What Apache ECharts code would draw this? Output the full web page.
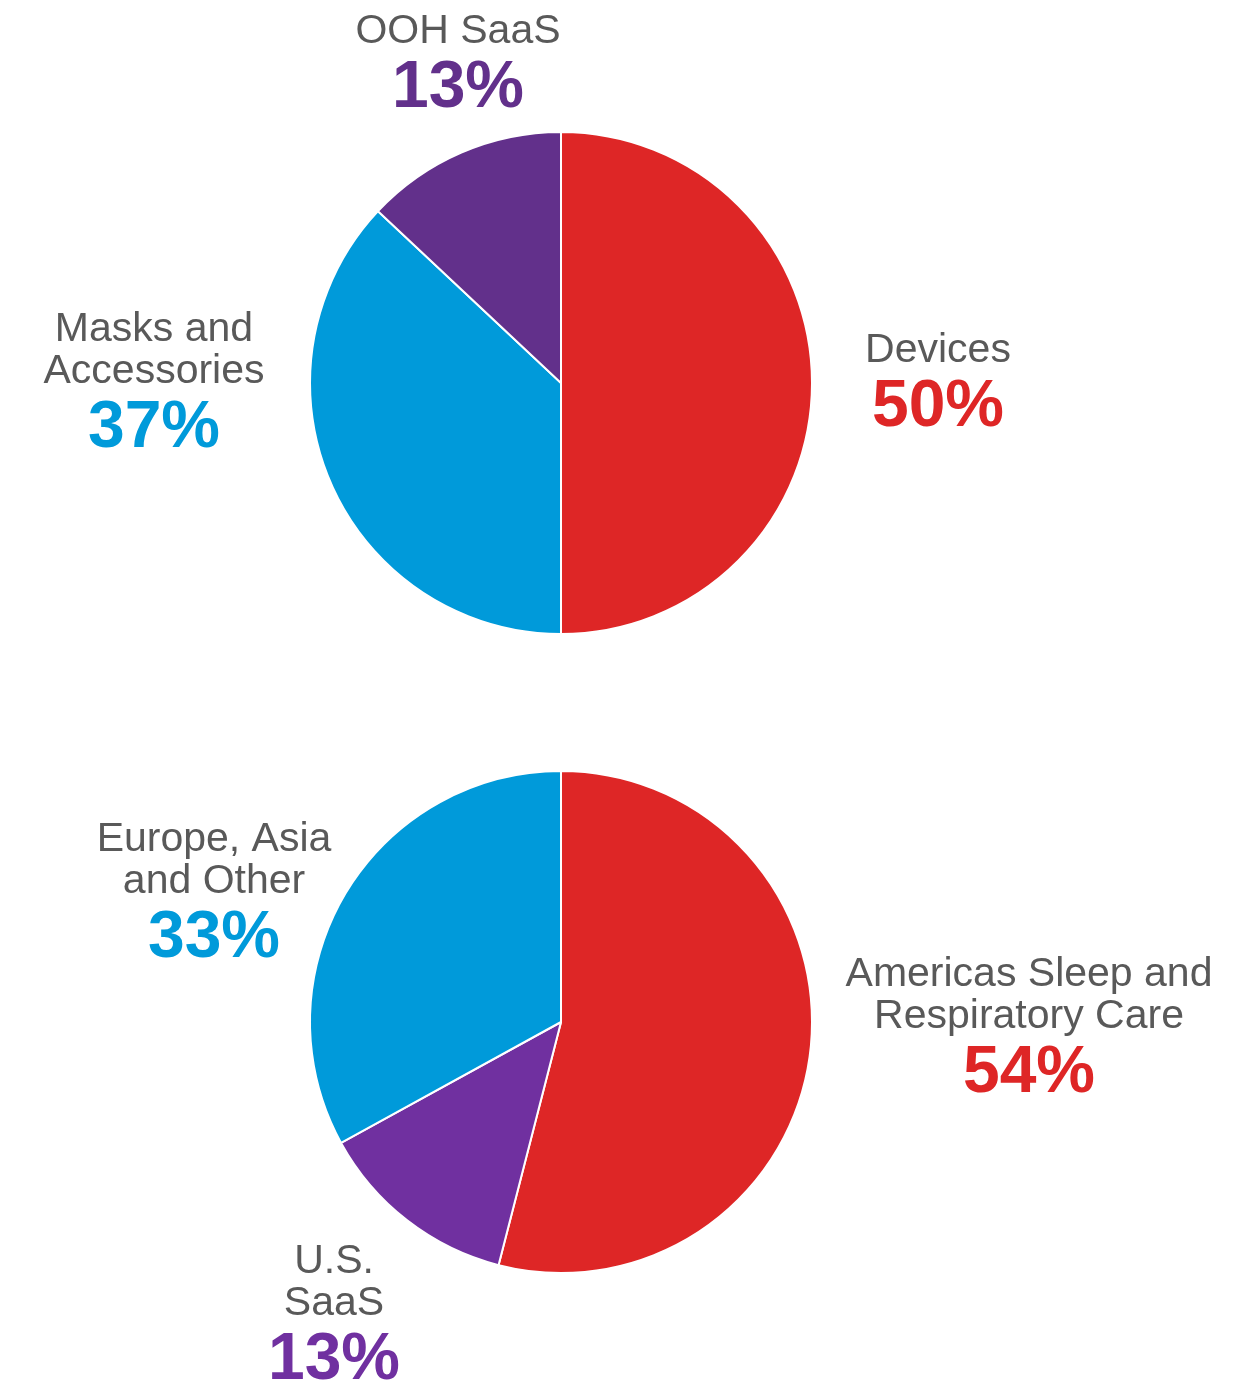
<!DOCTYPE html>
<html>
<head>
<meta charset="utf-8">
<script src="https://cdn.jsdelivr.net/npm/echarts@6/dist/echarts.min.js"></script>
<style>
  html, body { margin: 0; padding: 0; background: #fff; }
  #main { width: 1253px; height: 1388px; }
</style>
</head>
<body>
<div id="main"></div>
<script>
// top pie: product split
var topNames = ['Devices', 'Masks and\nAccessories', 'OOH SaaS']
var topValues = [50, 37, 13]
var topColors = ['#de2626', '#009ada', '#62308b']

// bottom pie: region split
var bottomNames = ['Americas Sleep and\nRespiratory Care', 'U.S.\nSaaS', 'Europe, Asia\nand Other']
var bottomValues = [54, 13, 33]
var bottomColors = ['#de2626', '#7030a0', '#009ada']

// where each label block sits (center of block)
var topLabelPos = [[938, 387], [154, 387], [458, 68]]
var bottomLabelPos = [[1029, 1032], [334, 1319], [214, 897]]

var colorKeys = { '#de2626': 'red', '#009ada': 'blue', '#62308b': 'purple', '#7030a0': 'purple2' }

function makeData(names, values, colors) {
  var d = []
  for (var i = 0; i < names.length; i++) {
    d.push({ name: names[i], value: values[i], itemStyle: { color: colors[i] }, colorKey: colorKeys[colors[i]] })
  }
  return d
}

var font = 'Liberation Sans, Arial, sans-serif'
var rich = {
  n: { fontSize: 41, lineHeight: 42, color: '#595959', fontFamily: font, align: 'center' },
  red: { fontSize: 66, lineHeight: 72, fontWeight: 'bold', color: '#de2626', fontFamily: font, align: 'center' },
  blue: { fontSize: 66, lineHeight: 72, fontWeight: 'bold', color: '#009ada', fontFamily: font, align: 'center' },
  purple: { fontSize: 66, lineHeight: 72, fontWeight: 'bold', color: '#62308b', fontFamily: font, align: 'center' },
  purple2: { fontSize: 66, lineHeight: 72, fontWeight: 'bold', color: '#7030a0', fontFamily: font, align: 'center' }
}

function fmt(p) {
  var lines = p.name.split('\n').map(function (s) { return '{n|' + s + '}' })
  return lines.join('\n') + '\n{' + p.data.colorKey + '|' + p.value + '%}'
}

function pieSeries(center, data, pos) {
  return {
    type: 'pie',
    center: center,
    radius: 251,
    startAngle: 90,
    clockwise: true,
    silent: true,
    itemStyle: { borderColor: '#fff', borderWidth: 2 },
    label: { show: true, formatter: fmt, rich: rich, align: 'center' },
    labelLine: { show: false },
    labelLayout: function (params) {
      var p = pos[params.dataIndex]
      return { x: p[0], y: p[1], align: 'center', verticalAlign: 'middle' }
    },
    data: data
  }
}

var myChart = echarts.init(document.getElementById('main'))
var option = {
  backgroundColor: '#fff',
  animation: false,
  series: [
    pieSeries([561, 383], makeData(topNames, topValues, topColors), topLabelPos),
    pieSeries([561, 1022], makeData(bottomNames, bottomValues, bottomColors), bottomLabelPos)
  ]
}
myChart.setOption(option)
</script>
</body>
</html>
